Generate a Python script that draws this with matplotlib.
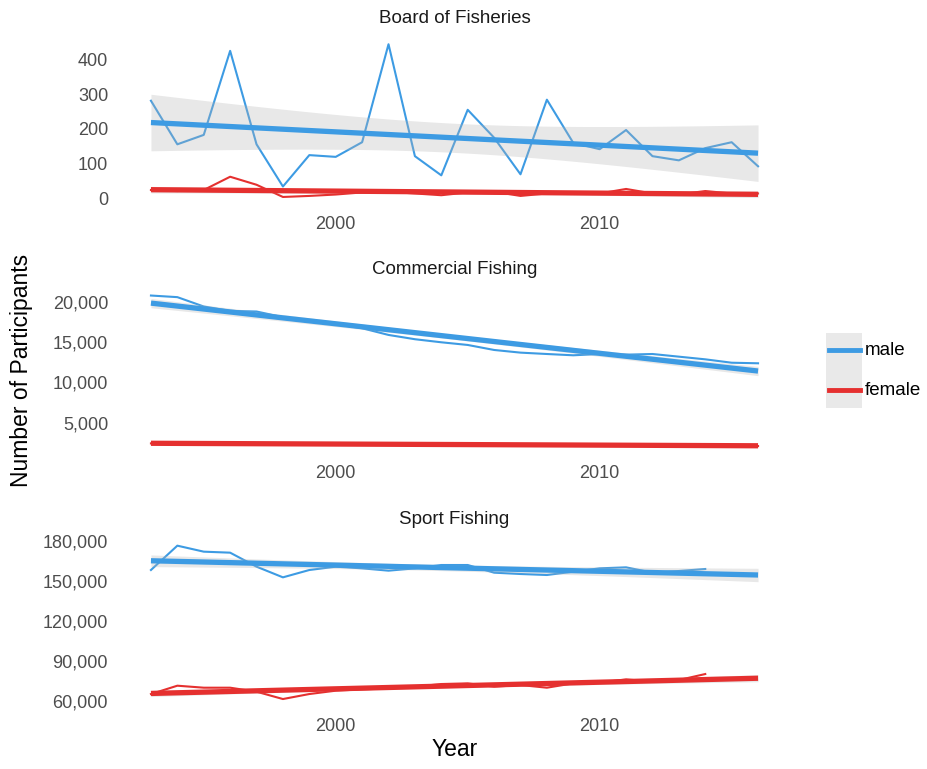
import numpy as np
import matplotlib
matplotlib.use("Agg")
import matplotlib.pyplot as plt
from matplotlib.patches import Rectangle
from matplotlib.lines import Line2D
from matplotlib.ticker import FuncFormatter

plt.rcParams['font.family'] = ['Liberation Sans', 'DejaVu Sans']

years = list(range(1993, 2017))
sport_years = list(range(1993, 2015))

board_male = [281, 156, 183, 424, 156, 35, 125, 120, 162, 443, 122, 67,
              255, 175, 70, 284, 160, 142, 197, 122, 110, 145, 162, 93]
board_female = [25, 22, 25, 63, 40, 5, 8, 12, 18, 20, 15, 10,
                18, 20, 8, 15, 15, 15, 28, 15, 12, 22, 15, 15]

comm_male = [20760, 20560, 19400, 18860, 18780, 18080, 17650, 17200, 16710, 15880,
             15350, 14970, 14640, 14020, 13690, 13520, 13360, 13520, 13440, 13520,
             13190, 12860, 12440, 12370]
comm_female = [2450, 2440, 2430, 2420, 2400, 2390, 2380, 2370, 2360, 2350, 2340, 2330,
               2330, 2320, 2300, 2280, 2260, 2240, 2230, 2210, 2190, 2170, 2150, 2120]

sport_male = [158250, 176500, 172000, 171250, 160750, 152750, 158250, 160750, 159500,
              157750, 159500, 162000, 162000, 156250, 155250, 154500, 157000, 159500,
              160250, 156250, 157500, 159000]
sport_female = [65250, 71500, 70000, 70000, 67000, 61500, 65250, 67750, 68750, 69500,
                70750, 72750, 73250, 70750, 72000, 70000, 73250, 73750, 76250, 74500,
                75750, 80250]

panel_titles = ["Board of Fisheries", "Commercial Fishing", "Sport Fishing"]
y_ticks = [[0, 100, 200, 300, 400],
           [5000, 10000, 15000, 20000],
           [60000, 90000, 120000, 150000, 180000]]
x_ticks = [2000, 2010]
sex_labels = ["male", "female"]

BLUE = "#3d9be3"
RED = "#e5302f"
BAND = "#b3b3b3"
TXT = "#4d4d4d"


def t975(df):
    z = 1.959964
    return (z + (z**3 + z) / (4 * df) + (5 * z**5 + 16 * z**3 + 3 * z) / (96 * df**2))


def lm_fit(x, y, xg):
    x = np.asarray(x, float)
    y = np.asarray(y, float)
    n = len(x)
    b, a = np.polyfit(x, y, 1)
    res = y - (a + b * x)
    s = np.sqrt(np.sum(res**2) / (n - 2))
    sxx = np.sum((x - x.mean())**2)
    pred = a + b * xg
    se = s * np.sqrt(1.0 / n + (xg - x.mean())**2 / sxx)
    t = t975(n - 2)
    return pred, pred - t * se, pred + t * se


fig = plt.figure(figsize=(9.27, 7.69), dpi=100)
W, H = 927, 769


def ax_rect(top, bottom):
    left, right = 120.6, 788.4
    return [left / W, 1 - bottom / H, (right - left) / W, (bottom - top) / H]


rects = [ax_rect(36.6, 204.6), ax_rect(288, 453.6), ax_rect(538, 706.7)]
data = [
    (years, board_male, board_female),
    (years, comm_male, comm_female),
    (sport_years, sport_male, sport_female),
]

xg = np.linspace(1993, 2016, 100)

for i, (rect, (yrs, male, female)) in enumerate(zip(rects, data)):
    ax = fig.add_axes(rect)
    ax.set_facecolor("none")
    # raw lines
    ax.plot(yrs, male, color=BLUE, lw=1.5, zorder=2)
    ax.plot(yrs, female, color=RED, lw=1.5, zorder=2)
    # smooth fits with CI
    for vals, col in ((male, BLUE), (female, RED)):
        pred, lo, hi = lm_fit(yrs, vals, xg)
        ax.fill_between(xg, lo, hi, color=BAND, alpha=0.3, lw=0, zorder=3)
        ax.plot(xg, pred, color=col, lw=3.8, zorder=4, solid_capstyle="butt")
    allv = np.array(list(male) + list(female), float)
    rng = allv.max() - allv.min()
    ax.set_ylim(allv.min() - 0.05 * rng, allv.max() + 0.05 * rng)
    ax.set_xlim(1993 - 0.05 * 23, 2016 + 0.05 * 23)
    ax.set_yticks(y_ticks[i])
    ax.set_xticks(x_ticks)
    ax.yaxis.set_major_formatter(FuncFormatter(lambda v, p: f"{int(v):,}"))
    ax.tick_params(length=0, labelsize=13, labelcolor=TXT, pad=9)
    ax.tick_params(axis="x", pad=8)
    for sp in ax.spines.values():
        sp.set_visible(False)
    ax.set_title(panel_titles[i], fontsize=13.5, color="#1a1a1a", pad=10)

fig.text(22 / W, 1 - 370 / H, "Number of Participants", rotation=90,
         ha="center", va="center", fontsize=16.5, color="black")
fig.text(455 / W, 1 - 750 / H, "Year", ha="center", va="center",
         fontsize=16.5, color="black")

# legend
fig.add_artist(Rectangle((826 / W, 1 - 408 / H), 36 / W, 75 / H,
                         transform=fig.transFigure, facecolor="#e9e9e9",
                         edgecolor="none"))
for yy, col, lab in ((350, BLUE, sex_labels[0]), (390, RED, sex_labels[1])):
    fig.add_artist(Line2D([829 / W, 860 / W], [1 - yy / H, 1 - yy / H],
                          transform=fig.transFigure, color=col, lw=3.5))
    fig.text(865 / W, 1 - yy / H, lab, ha="left", va="center",
             fontsize=13.5, color="black")

fig.savefig("out.png", dpi=100)
